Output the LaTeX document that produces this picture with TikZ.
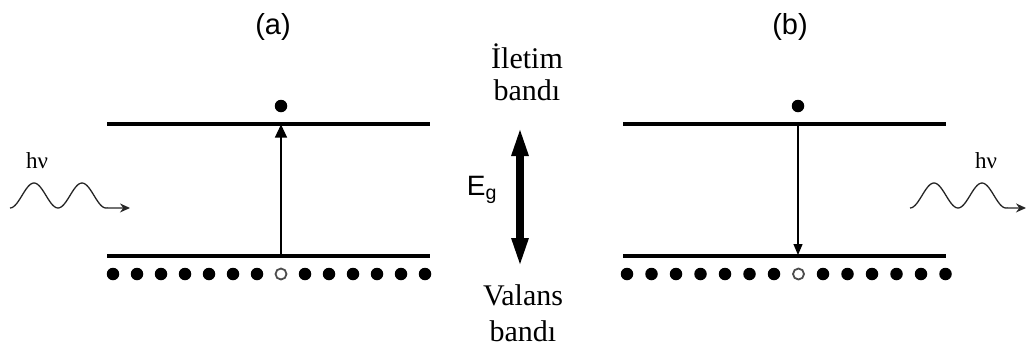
\documentclass[tikz,border=0pt]{standalone}
\usepackage{fontspec}
\setmainfont{Liberation Serif}
\newfontfamily\arialf{Liberation Sans}
\usetikzlibrary{arrows.meta}
\begin{document}
\begin{tikzpicture}[x=1pt,y=-1pt,
  band/.style={line width=3.6pt},
  edot/.style={circle,fill=black,inner sep=0pt,minimum size=12.5pt},
  hole/.style={circle,draw=black!70,line width=1.8pt,fill=white,inner sep=0pt,minimum size=11pt},
  trans/.style={line width=1.2pt},
  wave/.style={line width=1.3pt,black!85},
  bandlbl/.style={font=\fontsize{30}{30}\selectfont,anchor=base},
  panellbl/.style={font=\arialf\fontsize{29}{29}\selectfont},
  hnu/.style={font=\fontsize{23}{23}\selectfont}
]
\useasboundingbox (0,0) rectangle (1026,349);

% panel labels
\node[panellbl] (la) at (273,27) {(a)};
\node[panellbl] (lb) at (790,27) {(b)};

% panel (a) bands
\coordinate (a-cl) at (107,124); \coordinate (a-cr) at (430,124);
\coordinate (a-vl) at (107,256); \coordinate (a-vr) at (430,256);
\draw[band] (a-cl) -- (a-cr);
\draw[band] (a-vl) -- (a-vr);
\foreach \i in {0,...,6,8,9,...,13} \node[edot] (a\i) at (113+24*\i,274) {};
\node[hole] (a7) at (113+24*7,274) {};
\node[edot] (ae) at (281,106) {};
\coordinate (a-up0) at (281,256);
\coordinate (a-up1) at (281,124.5);
\draw[trans,-{Triangle[length=13pt,width=12pt]}] (a-up0) -- (a-up1);

% panel (b) bands
\coordinate (b-cl) at (623,124); \coordinate (b-cr) at (946,124);
\coordinate (b-vl) at (623,256); \coordinate (b-vr) at (946,256);
\draw[band] (b-cl) -- (b-cr);
\draw[band] (b-vl) -- (b-vr);
\foreach \i in {0,...,6,8,9,...,13} \node[edot] (b\i) at (627+24.5*\i,274) {};
\node[hole] (b7) at (627+24.5*7,274) {};
\node[edot] (be) at (798,106) {};
\coordinate (b-dn0) at (798,124);
\coordinate (b-dn1) at (798,255);
\draw[trans,-{Triangle[length=11pt,width=9pt]}] (b-dn0) -- (b-dn1);

% centre labels and gap arrow
\node[bandlbl] (il) at (527,68) {İletim};
\node[bandlbl] (ib) at (527,100) {bandı};
\node[bandlbl] (vl) at (523,305) {Valans};
\node[bandlbl] (vb) at (523,341) {bandı};
\coordinate (eg-top) at (520,126);
\coordinate (eg-bot) at (520,268);
\draw[line width=7.5pt,{Triangle[length=30pt,width=15pt]}-{Triangle[length=30pt,width=15pt]}] (eg-bot) -- (eg-top);
\node[font=\arialf\fontsize{28}{28}\selectfont] (eg) at (482,190) {E\textsubscript{g}};

% photons
\node[hnu] (hl) at (37,161) {hν};
\coordinate (wl-end) at (130,208);
\draw[wave,-{Stealth[length=10pt,width=9pt]}] plot[domain=10:107,samples=60,smooth] (\x,{195.5+12.5*cos(7.5*(\x-10))}) -- (wl-end);
\node[hnu] (hr) at (986,161) {hν};
\coordinate (wr-end) at (1026,208);
\draw[wave,-{Stealth[length=10pt,width=9pt]}] plot[domain=910:1007,samples=60,smooth] (\x,{195.5+12.5*cos(7.5*(\x-910))}) -- (wr-end);
\end{tikzpicture}
\end{document}
